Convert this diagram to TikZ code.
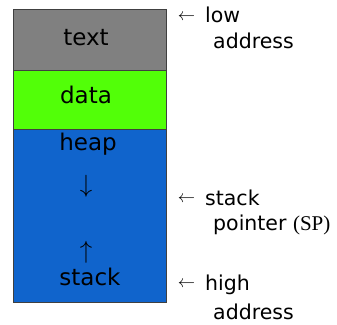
\documentclass[tikz,border=0pt]{standalone}
\usepackage{fontspec}
\setmainfont{DejaVu Sans}
\newfontfamily\spfont{Liberation Serif}

\definecolor{segtext}{HTML}{808080}
\definecolor{segdata}{HTML}{52FF08}
\definecolor{segheap}{HTML}{1064CC}

\tikzset{
  seg/.style={draw=black!75, line width=0.9pt, anchor=north west,
    minimum width=153.5pt, inner sep=0pt},
  segname/.style={anchor=base, inner sep=0pt, font=\fontsize{23}{25}\selectfont},
  addr/.style={anchor=base west, inner sep=0pt, font=\fontsize{20.5}{23}\selectfont},
  pointsto/.style={anchor=center, inner sep=0pt, font=\fontsize{17}{19}\selectfont}
}

\begin{document}
\begin{tikzpicture}[x=1pt,y=-1pt]
  \useasboundingbox (0,0) rectangle (337,324);
  % the three segments
  \node[seg, fill=segtext, minimum height=61pt] (textseg) at (12.5,8.5) {};
  \node[seg, fill=segdata, minimum height=59pt] (dataseg) at (12.5,69.5) {};
  \node[seg, fill=segheap, minimum height=173.5pt] (heapseg) at (12.5,128.5) {};
  % names inside
  \node[segname] (text) at (86,45) {text};
  \node[segname] (data) at (86,103) {data};
  \node[segname] (heap) at (88,150) {heap};
  \node[segname, font=\fontsize{30}{32}\selectfont] (grow) at (86,192) {$\downarrow$};
  \node[segname, font=\fontsize{30}{32}\selectfont] (shrink) at (86,258) {$\uparrow$};
  \node[segname] (stack) at (90,285) {stack};
  % addresses on the right
  \node[pointsto] (lowarr) at (186.5,17.5) {$\leftarrow$};
  \node[addr] (low) at (205,23) {low};
  \node[addr] (lowaddr) at (213,48) {address};
  \node[pointsto] (sparr) at (186.5,199.5) {$\leftarrow$};
  \node[addr] (sp) at (205,205) {stack};
  \node[addr] (spname) at (213,230) {pointer {\spfont\fontsize{21}{23}\selectfont(SP)}};
  \node[pointsto] (higharr) at (186.5,284.5) {$\leftarrow$};
  \node[addr] (high) at (205,290) {high};
  \node[addr] (highaddr) at (213,319) {address};
\end{tikzpicture}
\end{document}
